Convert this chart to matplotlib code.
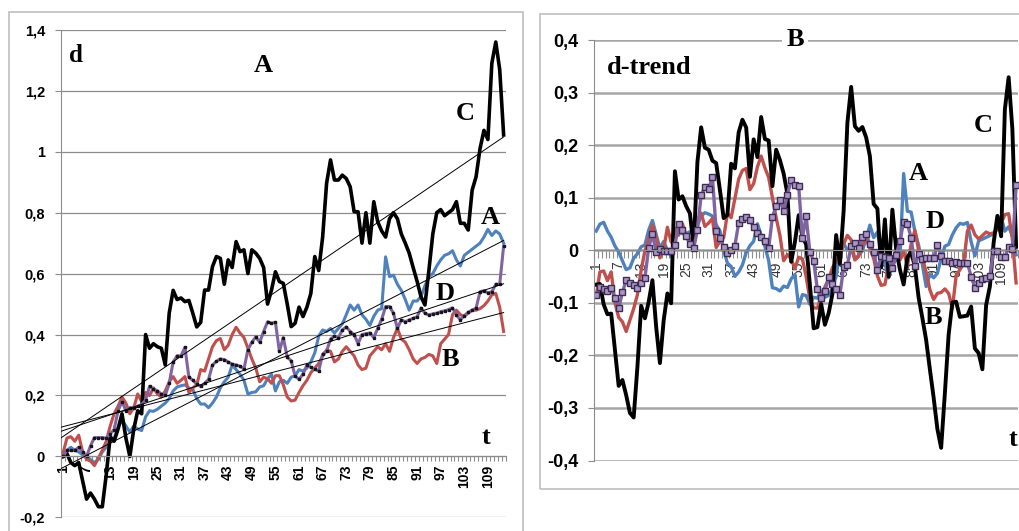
import numpy as np
import matplotlib
matplotlib.use("Agg")
import matplotlib.pyplot as plt
from matplotlib.patches import Rectangle
from matplotlib.ticker import FixedLocator, FuncFormatter

# ---- data -------------------------------------------------------------
t = np.arange(1, 114)

series_a = [0.0, 0.02, 0.03, 0.02, 0.015, 0.005, 0.0, -0.01, -0.02, -0.01,
            0.015, 0.03, 0.05, 0.06, 0.095, 0.12, 0.10, 0.08, 0.10, 0.09,
            0.085, 0.13, 0.15, 0.148, 0.155, 0.165, 0.175, 0.19, 0.215, 0.228,
            0.232, 0.235, 0.225, 0.22, 0.19, 0.172, 0.172, 0.16, 0.175, 0.195,
            0.225, 0.245, 0.26, 0.30, 0.285, 0.27, 0.25, 0.205, 0.21, 0.212,
            0.228, 0.232, 0.255, 0.27, 0.215, 0.245, 0.25, 0.24, 0.26, 0.265,
            0.285, 0.28, 0.29, 0.31, 0.34, 0.395, 0.415, 0.41, 0.42, 0.405,
            0.42, 0.435, 0.465, 0.497, 0.48, 0.497, 0.465, 0.45, 0.43, 0.46,
            0.48, 0.485, 0.655, 0.59, 0.595, 0.565, 0.545, 0.515, 0.48, 0.51,
            0.51, 0.525, 0.56, 0.59, 0.60, 0.625, 0.645, 0.66, 0.665, 0.675,
            0.645, 0.625, 0.66, 0.67, 0.68, 0.69, 0.70, 0.72, 0.745, 0.725,
            0.74, 0.73, 0.70]

series_b = [0.01, 0.06, 0.065, 0.05, 0.07, 0.015, -0.01, -0.015, -0.03, -0.005,
            0.02, 0.05, 0.10, 0.14, 0.165, 0.195, 0.175, 0.14, 0.16, 0.205,
            0.18, 0.21, 0.20, 0.225, 0.205, 0.195, 0.215, 0.245, 0.262, 0.24,
            0.25, 0.262, 0.21, 0.225, 0.235, 0.285, 0.28, 0.32, 0.36, 0.38,
            0.387, 0.35, 0.365, 0.40, 0.424, 0.405, 0.39, 0.355, 0.32, 0.29,
            0.245, 0.26, 0.255, 0.24, 0.265, 0.265, 0.235, 0.195, 0.182, 0.185,
            0.21, 0.232, 0.25, 0.275, 0.29, 0.305, 0.33, 0.35, 0.345, 0.31,
            0.32, 0.345, 0.36, 0.345, 0.33, 0.30, 0.285, 0.29, 0.33, 0.345,
            0.36, 0.35, 0.37, 0.345, 0.39, 0.42, 0.385, 0.375, 0.35, 0.32,
            0.305, 0.32, 0.325, 0.335, 0.33, 0.305, 0.37, 0.385, 0.40, 0.465,
            0.48, 0.465, 0.46, 0.47, 0.48, 0.48, 0.485, 0.495, 0.51, 0.53,
            0.535, 0.49, 0.41]

series_c = [0.0, 0.01, -0.02, -0.03, -0.02, -0.08, -0.14, -0.12, -0.14, -0.165,
            -0.165, -0.06, 0.065, 0.05, 0.09, 0.14, 0.06, 0.0, 0.09, 0.15,
            0.14, 0.40, 0.355, 0.37, 0.36, 0.355, 0.30, 0.47, 0.545, 0.515,
            0.52, 0.508, 0.512, 0.47, 0.425, 0.44, 0.546, 0.546, 0.623, 0.656,
            0.65, 0.565, 0.645, 0.62, 0.705, 0.672, 0.678, 0.60, 0.678, 0.667,
            0.65, 0.62, 0.50, 0.546, 0.606, 0.574, 0.568, 0.50, 0.426, 0.437,
            0.49, 0.459, 0.49, 0.535, 0.656, 0.61, 0.72, 0.896, 0.973, 0.907,
            0.907, 0.923, 0.912, 0.885, 0.803, 0.803, 0.70, 0.80, 0.70, 0.836,
            0.77, 0.74, 0.72, 0.78, 0.80, 0.78, 0.73, 0.70, 0.667, 0.62,
            0.575, 0.524, 0.497, 0.61, 0.73, 0.80, 0.81, 0.79, 0.80, 0.81,
            0.836, 0.765, 0.765, 0.743, 0.874, 0.918, 1.01, 1.07, 1.04, 1.29,
            1.36, 1.27, 1.055]

series_d = [0.0, 0.02, 0.02, 0.02, 0.03, 0.015, 0.0, 0.035, 0.062, 0.062,
            0.062, 0.06, 0.075, 0.088, 0.15, 0.18, 0.15, 0.16, 0.16, 0.165,
            0.17, 0.185, 0.23, 0.222, 0.215, 0.205, 0.2, 0.24, 0.31, 0.33,
            0.33, 0.358, 0.26, 0.25, 0.237, 0.23, 0.24, 0.253, 0.30, 0.312,
            0.32, 0.318, 0.31, 0.303, 0.30, 0.296, 0.287, 0.35, 0.375, 0.392,
            0.375, 0.41, 0.442, 0.437, 0.44, 0.345, 0.39, 0.326, 0.314, 0.264,
            0.253, 0.27, 0.30, 0.292, 0.287, 0.28, 0.336, 0.345, 0.385, 0.395,
            0.39, 0.415, 0.425, 0.41, 0.40, 0.37, 0.40, 0.403, 0.405, 0.39,
            0.42, 0.45, 0.492, 0.492, 0.47, 0.42, 0.448, 0.442, 0.448, 0.453,
            0.458, 0.487, 0.47, 0.464, 0.468, 0.47, 0.475, 0.478, 0.482, 0.487,
            0.465, 0.448, 0.462, 0.473, 0.48, 0.487, 0.54, 0.544, 0.537, 0.54,
            0.565, 0.565, 0.69]

x_tick_labels = list(range(1, 114, 6))
left_yticks = [-0.2, 0.0, 0.2, 0.4, 0.6, 0.8, 1.0, 1.2, 1.4]
right_yticks = [-0.4, -0.3, -0.2, -0.1, 0.0, 0.1, 0.2, 0.3, 0.4]

# ---- styling ------------------------------------------------------------
W, H = 1019, 531
BLUE, RED, PURPLE = "#4F81BD", "#C0504D", "#8064A2"
SERIF = "Liberation Serif"
SANS = "Liberation Sans"


def px_rect(x0, x1, y0, y1):
    return [x0 / W, 1 - y1 / H, (x1 - x0) / W, (y1 - y0) / H]


def comma(v, pos=None):
    s = f"{round(v, 1):g}"
    return "0" if s == "-0" else s.replace(".", ",")


def fit_line(y):
    k, b = np.polyfit(t, np.asarray(y), 1)
    return k * t + b


def style_axes(ax, yticks, grid_lw, grid_color, ytick_size, xlab_kw, minor_len, xpad):
    ax.set_xlim(0.5, 113.5)
    ax.set_ylim(yticks[0], yticks[-1])
    ax.set_axisbelow(True)
    for s in ("top", "right"):
        ax.spines[s].set_visible(False)
    ax.spines["left"].set_color("#8C8C8C")
    ax.spines["bottom"].set_color("#8C8C8C")
    ax.spines["bottom"].set_position(("data", 0))
    ax.yaxis.set_major_locator(FixedLocator(yticks))
    ax.yaxis.set_major_formatter(FuncFormatter(comma))
    ax.tick_params(axis="y", length=4.5, color="#8C8C8C", pad=7)
    for lab in ax.get_yticklabels():
        lab.set_fontfamily(SANS)
        lab.set_fontweight("bold")
        lab.set_fontsize(ytick_size)
    ax.grid(axis="y", color=grid_color, lw=grid_lw)
    ax.xaxis.set_major_locator(FixedLocator(x_tick_labels))
    ax.xaxis.set_minor_locator(FixedLocator(np.arange(0.5, 114, 1.0)))
    ax.tick_params(axis="x", which="major", length=0, pad=xpad)
    ax.tick_params(axis="x", which="minor", length=minor_len, color="#8C8C8C", width=0.8)
    ax.set_xticklabels([str(v) for v in x_tick_labels], rotation=90, **xlab_kw)


fig = plt.figure(figsize=(W / 100, H / 100), dpi=100)

# chart frames
fig.patches.append(Rectangle((9 / W, 1 - 545 / H), (523 - 9) / W, (545 - 12) / H,
                             transform=fig.transFigure, fill=False,
                             edgecolor="#BFBFBF", lw=1.2))
fig.patches.append(Rectangle((540 / W, 1 - 489 / H), (1040 - 540) / W, (489 - 13.5) / H,
                             transform=fig.transFigure, fill=False,
                             edgecolor="#BFBFBF", lw=1.2))

# ---- panel A: d ---------------------------------------------------------
axA = fig.add_axes(px_rect(61, 505.6, 29.8, 517.4))
style_axes(axA, left_yticks, 0.9, "#8C8C8C", 10.5,
           dict(fontfamily=SANS, fontweight="bold", fontsize=10), 3.5, 6)

axA.plot(t, series_a, color=BLUE, lw=2.2, zorder=2)
axA.plot(t, series_b, color=RED, lw=2.2, zorder=2)
axA.plot(t, series_c, color="black", lw=2.6, zorder=2)
axA.plot(t, series_d, color=PURPLE, lw=2.2, marker="s", ms=2.0,
         mfc="#151515", mec="#151515", zorder=2)

# linear trend lines, drawn from the left edge of the first category
for ys in (series_a, series_b, series_c, series_d):
    tr = fit_line(ys)
    k = tr[1] - tr[0]
    axA.plot([0.5, 113], [tr[0] - 0.5 * k, tr[-1]], color="black", lw=0.7, zorder=3)

# ---- panel B: d - trend ---------------------------------------------------
axB = fig.add_axes(px_rect(594.3, 1018, 40, 460.5))
style_axes(axB, right_yticks, 1.8, "#A6A6A6", 13,
           dict(fontfamily=SANS, fontsize=10, color="#333333"), 6, 8)

resid = {name: np.asarray(ys) - fit_line(ys)
         for name, ys in (("A", series_a), ("B", series_b), ("C", series_c), ("D", series_d))}
axB.plot(t, resid["A"], color=BLUE, lw=2.4, zorder=2)
axB.plot(t, resid["B"], color=RED, lw=2.4, zorder=2)
axB.plot(t, resid["C"], color="black", lw=2.8, zorder=2)
axB.plot(t, resid["D"], color=PURPLE, lw=2.4, marker="s", ms=4.2,
         mfc="#A996C4", mec="#3E2C55", mew=1.0, zorder=2)

# ---- annotations -------------------------------------------------------------
def label(x, y, s, size=19, **kw):
    fig.text(x / W, 1 - y / H, s, ha="center", va="center", fontsize=size,
             fontfamily=SERIF, fontweight="bold", **kw)


label(76, 56, "d", size=18)
label(263, 66, "A")
label(465, 113, "C")
label(490, 217, "A")
label(445, 293, "D")
label(450, 359, "B")
label(486, 437, "t")

label(795, 39, "B", bbox=dict(facecolor="white", edgecolor="none", pad=3))
fig.text(607 / W, 1 - 68 / H, "d-trend", ha="left", va="center", fontsize=19,
         fontfamily=SERIF, fontweight="bold")
label(983, 125, "C")
label(918, 173, "A")
label(935, 222, "D")
label(933, 318, "B")
label(1013, 440, "t")

fig.savefig("out.png", dpi=100)
